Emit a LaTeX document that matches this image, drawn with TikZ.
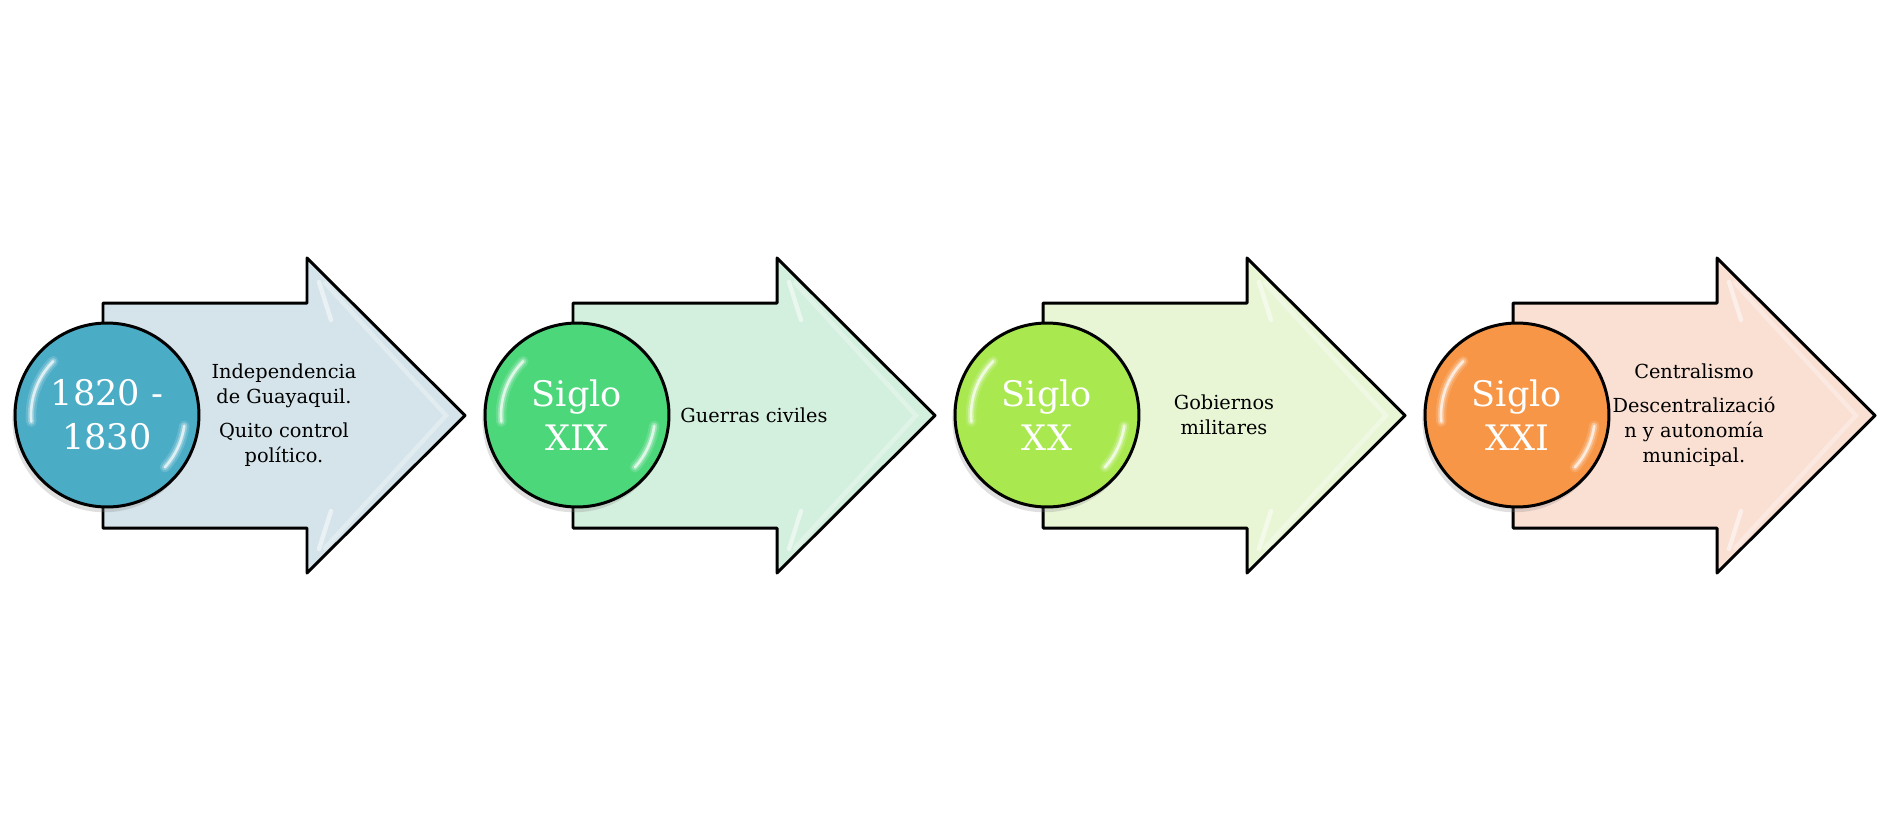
\documentclass[tikz,border=0pt]{standalone}
\usepackage{fontspec}
\setmainfont{DejaVu Serif}
\usepackage{tikz}
\usetikzlibrary{shadows,positioning}
\definecolor{aguaC}{HTML}{4BACC6}
\definecolor{aguaF}{HTML}{D5E4EA}
\definecolor{verdeC}{HTML}{4CD77B}
\definecolor{verdeF}{HTML}{D3EFDE}
\definecolor{limaC}{HTML}{A9E84F}
\definecolor{limaF}{HTML}{E9F6D6}
\definecolor{naranjaC}{HTML}{F79646}
\definecolor{naranjaF}{HTML}{FADFD3}
\tikzstyle{flecha} = [draw, line width=1.7pt, line join=round]
\tikzstyle{brillo} = [white, line width=2.5pt, line cap=round, opacity=0.6]
\tikzstyle{bola} = [circle, draw, line width=1.7pt, minimum size=3.68cm, text=white,
    align=center, font=\fontsize{20}{25}\selectfont,
    drop shadow={opacity=0.25, shadow xshift=-1.5pt, shadow yshift=-3pt}]
\tikzstyle{texto} = [align=center, font=\fontsize{11}{14.2}\selectfont]

\begin{document}
\begin{tikzpicture}[x=0.02cm, y=-0.02cm, node distance=3.54cm]
    \useasboundingbox (0,0) rectangle (1880,833);
    % Draw arrows
    \foreach \x/\col in {103/aguaF, 573/verdeF, 1043/limaF, 1513/naranjaF} {
      \draw [flecha, fill=\col] (\x,303) -- (\x+204,303) -- (\x+204,258) -- (\x+362,415.5)
          -- (\x+204,573) -- (\x+204,528) -- (\x,528) -- cycle;
      \draw [brillo, opacity=0.5] (\x+216,282) -- (\x+228,320);
      \draw [brillo, opacity=0.5] (\x+216,549) -- (\x+228,511);
      \draw [brillo, opacity=0.3] (\x+222,283) -- (\x+343,415.5) -- (\x+222,548);
    }
    % Place nodes
    \node [bola, fill=aguaC] (c1) at (107,415) {1820 -\\1830};
    \node [bola, fill=verdeC] (c2) at (577,415) {Siglo\\XIX};
    \node [bola, fill=limaC] (c3) at (1047,415) {Siglo\\XX};
    \node [bola, fill=naranjaC] (c4) at (1517,415) {Siglo\\XXI};
    \node [texto, right of=c1] (t1) {Independencia\\de Guayaquil.\\[5pt]Quito control\\político.};
    \node [texto, right of=c2] (t2) {Guerras civiles};
    \node [texto, right of=c3] (t3) {Gobiernos\\militares};
    \node [texto, right of=c4] (t4) {Centralismo\\[5pt]Descentralizació\\n y autonomía\\municipal.};
    % Gloss on the circles
    \foreach \c in {c1,c2,c3,c4} {
      \foreach \w/\o in {6pt/0.15, 3.5pt/0.3, 1.5pt/0.7} {
        \draw [brillo, line width=\w, opacity=\o] ([shift={(-135:76)}]\c.center) arc[start angle=-135, end angle=-185, radius=76];
        \draw [brillo, line width=\w, opacity=\o] ([shift={(8:78)}]\c.center) arc[start angle=8, end angle=42, radius=78];
      }
    }
\end{tikzpicture}
\end{document}
